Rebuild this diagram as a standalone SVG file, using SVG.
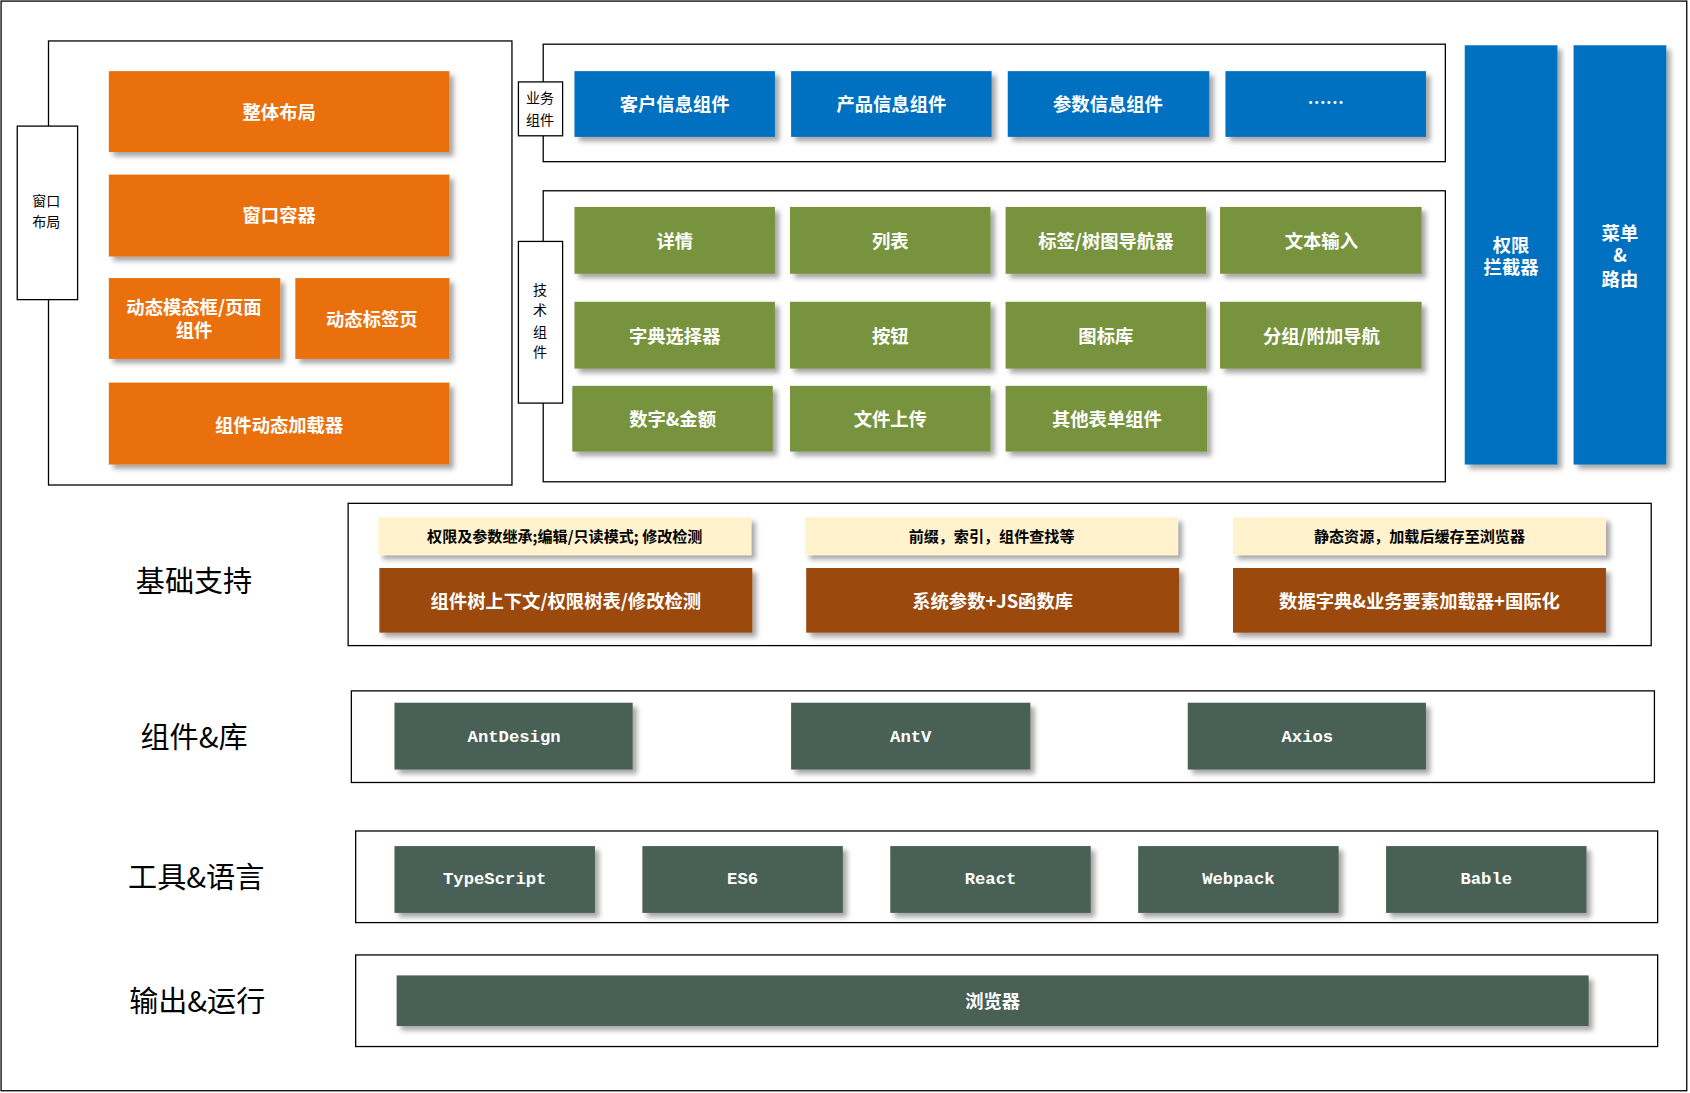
<svg xmlns="http://www.w3.org/2000/svg" width="1690" height="1093" viewBox="0 0 1690 1093">
<defs>
<filter id="sh" x="-10%" y="-20%" width="130%" height="150%"><feDropShadow dx="4" dy="4" stdDeviation="2.5" flood-color="#000" flood-opacity="0.35"/></filter>
<style>
.f{fill:none;stroke:#000;stroke-width:1.2}
.lb{fill:#fff;stroke:#000;stroke-width:1.2}
.o{fill:#E97011;filter:url(#sh)}
.b{fill:#0070C0;filter:url(#sh)}
.g{fill:#77933C;filter:url(#sh)}
.t{fill:#FFF2CC;filter:url(#sh)}
.r{fill:#9C4A0B;filter:url(#sh)}
.d{fill:#4A6156;filter:url(#sh)}
text{font-family:"Noto Sans CJK SC","Liberation Serif",serif;text-anchor:middle;dominant-baseline:central}
.w{fill:#fff;font-size:17px;font-weight:bold}
.k{fill:#000;font-size:13px}
.s{fill:#000;font-size:14px;font-weight:bold}
.h{fill:#000;font-size:27px}
.m{font-family:"Liberation Mono",monospace;fill:#fff;font-size:16px;font-weight:bold}
</style>
</defs>
<g transform="scale(1.0778)">
<rect class="f" x="1" y="1" width="1564" height="1011"/>
<g id="window">
<rect class="f" x="45" y="38" width="430" height="412"/>
<rect class="lb" x="16" y="117" width="56" height="161"/>
<text class="k" x="43" y="186">窗口</text><text class="k" x="43" y="205">布局</text>
<rect class="o" x="101" y="66" width="316" height="75"/><text class="w" x="259" y="103">整体布局</text>
<rect class="o" x="101" y="162" width="316" height="76"/><text class="w" x="259" y="199">窗口容器</text>
<rect class="o" x="101" y="258" width="159" height="75"/><text class="w" x="180" y="284">动态模态框/页面</text><text class="w" x="180" y="305">组件</text>
<rect class="o" x="274" y="258" width="143" height="75"/><text class="w" x="345" y="295">动态标签页</text>
<rect class="o" x="101" y="355" width="316" height="76"/><text class="w" x="259" y="393">组件动态加载器</text>
</g>
<g id="business">
<rect class="f" x="504" y="41" width="837" height="109"/>
<rect class="lb" x="481" y="76" width="41" height="50"/>
<text class="k" x="501" y="90">业务</text><text class="k" x="501" y="110">组件</text>
<rect class="b" x="533" y="66" width="186" height="61"/><text class="w" x="626" y="96">客户信息组件</text>
<rect class="b" x="734" y="66" width="186" height="61"/><text class="w" x="827" y="96">产品信息组件</text>
<rect class="b" x="935" y="66" width="187" height="61"/><text class="w" x="1028" y="96">参数信息组件</text>
<rect class="b" x="1137" y="66" width="186" height="61"/><text class="w" x="1230" y="94">……</text>
</g>
<g id="tech">
<rect class="f" x="504" y="177" width="837" height="270"/>
<rect class="lb" x="481" y="224" width="41" height="150"/>
<text class="k" x="501" y="268">技</text><text class="k" x="501" y="287">术</text><text class="k" x="501" y="307">组</text><text class="k" x="501" y="326">件</text>
<rect class="g" x="533" y="192" width="186" height="62"/><text class="w" x="626" y="223">详情</text>
<rect class="g" x="733" y="192" width="186" height="62"/><text class="w" x="826" y="223">列表</text>
<rect class="g" x="933" y="192" width="186" height="62"/><text class="w" x="1026" y="223">标签/树图导航器</text>
<rect class="g" x="1132" y="192" width="187" height="62"/><text class="w" x="1226" y="223">文本输入</text>
<rect class="g" x="533" y="280" width="186" height="62"/><text class="w" x="626" y="311">字典选择器</text>
<rect class="g" x="733" y="280" width="186" height="62"/><text class="w" x="826" y="311">按钮</text>
<rect class="g" x="933" y="280" width="186" height="62"/><text class="w" x="1026" y="311">图标库</text>
<rect class="g" x="1132" y="280" width="187" height="62"/><text class="w" x="1226" y="311">分组/附加导航</text>
<rect class="g" x="531" y="358" width="186" height="61"/><text class="w" x="624" y="388">数字&amp;金额</text>
<rect class="g" x="733" y="358" width="186" height="61"/><text class="w" x="826" y="388">文件上传</text>
<rect class="g" x="933" y="358" width="187" height="61"/><text class="w" x="1027" y="388">其他表单组件</text>
</g>
<g id="auth">
<rect class="b" x="1359" y="42" width="86" height="389"/><text class="w" x="1402" y="226">权限</text><text class="w" x="1402" y="247">拦截器</text>
</g>
<g id="menu">
<rect class="b" x="1460" y="42" width="86" height="389"/><text class="w" x="1503" y="215">菜单</text><text class="w" x="1503" y="236">&amp;</text><text class="w" x="1503" y="258">路由</text>
</g>
<g id="base">
<text class="h" x="180" y="537">基础支持</text>
<rect class="f" x="323" y="467" width="1209" height="132"/>
<rect class="t" x="351" y="480" width="346" height="35"/><text class="s" x="524" y="497">权限及参数继承;编辑/只读模式; 修改检测</text>
<rect class="t" x="747" y="480" width="346" height="35"/><text class="s" x="920" y="497">前缀，索引，组件查找等</text>
<rect class="t" x="1144" y="480" width="346" height="35"/><text class="s" x="1317" y="497">静态资源，加载后缓存至浏览器</text>
<rect class="r" x="352" y="527" width="346" height="60"/><text class="w" x="525" y="557">组件树上下文/权限树表/修改检测</text>
<rect class="r" x="748" y="527" width="346" height="60"/><text class="w" x="921" y="557">系统参数+JS函数库</text>
<rect class="r" x="1144" y="527" width="346" height="60"/><text class="w" x="1317" y="557">数据字典&amp;业务要素加载器+国际化</text>
</g>
<g id="lib">
<text class="h" x="180" y="682">组件&amp;库</text>
<rect class="f" x="326" y="641" width="1209" height="85"/>
<rect class="d" x="366" y="652" width="221" height="62"/><text class="m" x="477" y="684">AntDesign</text>
<rect class="d" x="734" y="652" width="222" height="62"/><text class="m" x="845" y="684">AntV</text>
<rect class="d" x="1102" y="652" width="221" height="62"/><text class="m" x="1213" y="684">Axios</text>
</g>
<g id="tools">
<text class="h" x="182" y="812">工具&amp;语言</text>
<rect class="f" x="330" y="771" width="1208" height="85"/>
<rect class="d" x="366" y="785" width="186" height="62"/><text class="m" x="459" y="816">TypeScript</text>
<rect class="d" x="596" y="785" width="186" height="62"/><text class="m" x="689" y="816">ES6</text>
<rect class="d" x="826" y="785" width="186" height="62"/><text class="m" x="919" y="816">React</text>
<rect class="d" x="1056" y="785" width="186" height="62"/><text class="m" x="1149" y="816">Webpack</text>
<rect class="d" x="1286" y="785" width="186" height="62"/><text class="m" x="1379" y="816">Bable</text>
</g>
<g id="output">
<text class="h" x="183" y="927">输出&amp;运行</text>
<rect class="f" x="330" y="886" width="1208" height="85"/>
<rect class="d" x="368" y="905" width="1106" height="47"/><text class="w" x="921" y="928">浏览器</text>
</g>
<g id="connectors"/>
</g>
</svg>
